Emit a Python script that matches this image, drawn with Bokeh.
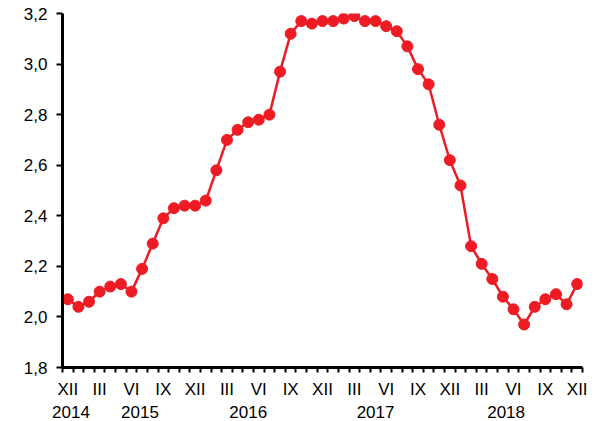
from bokeh.plotting import figure
from bokeh.models import (Range1d, FixedTicker, LinearAxis, CustomJSTickFormatter,
                          BoxAnnotation, ColumnDataSource)
from bokeh.embed import file_html
from bokeh.resources import INLINE

# Monthly values, XII 2014 .. XII 2018
values = [2.07, 2.04, 2.06, 2.10, 2.12, 2.13, 2.10, 2.19, 2.29, 2.39, 2.43, 2.44,
          2.44, 2.46, 2.58, 2.70, 2.74, 2.77, 2.78, 2.80, 2.97, 3.12, 3.17, 3.16,
          3.17, 3.17, 3.18, 3.19, 3.17, 3.17, 3.15, 3.13, 3.07, 2.98, 2.92, 2.76,
          2.62, 2.52, 2.28, 2.21, 2.15, 2.08, 2.03, 1.97, 2.04, 2.07, 2.09, 2.05,
          2.13]
month_labels = ["XII", "III", "VI", "IX"]
year_labels = ["2014", "2015", "2016", "2017", "2018"]
year_positions = [0.3, 6.8, 17.0, 29.0, 41.3]
y_ticks = [1.8, 2.0, 2.2, 2.4, 2.6, 2.8, 3.0, 3.2]

x = list(range(len(values)))
src = ColumnDataSource(dict(x=x, y=values))

FONT = "Liberation Sans"
RED = "#ED1C24"

p = figure(width=597, height=421, output_backend="svg", toolbar_location=None,
           x_range=Range1d(-0.5, len(values) - 0.5), y_range=Range1d(1.8, 3.2),
           min_border_left=62, min_border_top=13, min_border_bottom=54,
           min_border_right=15, x_axis_type=None, y_axis_type=None,
           styles={"position": "absolute", "left": "0px", "top": "0px"})
p.outline_line_color = None
p.xgrid.visible = False
p.ygrid.visible = False

# y axis
yax = LinearAxis(ticker=FixedTicker(ticks=y_ticks, minor_ticks=[]),
                 formatter=CustomJSTickFormatter(code="return tick.toFixed(1).replace('.', ',');"))
yax.axis_line_width = 3
yax.major_tick_line_width = 2
yax.major_tick_out = 6
yax.major_tick_in = 0
yax.major_label_text_font = FONT
yax.major_label_text_font_size = "17px"
yax.major_label_text_color = "black"
yax.major_label_standoff = 9
p.add_layout(yax, "left")

# month axis
major = list(range(0, len(values), 3))
xax = LinearAxis(ticker=FixedTicker(ticks=major,
                                    minor_ticks=[i - 0.5 for i in range(len(values) + 1)]))
xax.major_label_overrides = {i: month_labels[(i // 3) % 4] for i in major}
xax.axis_line_width = 3
xax.major_tick_out = 0
xax.major_tick_in = 0
xax.minor_tick_out = 5
xax.minor_tick_in = 0
xax.minor_tick_line_width = 2
xax.major_label_text_font = FONT
xax.major_label_text_font_size = "17px"
xax.major_label_text_color = "black"
xax.major_label_standoff = 7
p.add_layout(xax, "below")

# year axis
yrax = LinearAxis(ticker=FixedTicker(ticks=year_positions, minor_ticks=[]))
yrax.major_label_overrides = {pos: lab for pos, lab in zip(year_positions, year_labels)}
yrax.axis_line_color = None
yrax.major_tick_line_color = None
yrax.minor_tick_line_color = None
yrax.major_tick_out = 0
yrax.major_tick_in = 0
yrax.major_label_text_font = FONT
yrax.major_label_text_font_size = "17px"
yrax.major_label_text_color = "black"
yrax.major_label_standoff = 4
p.add_layout(yrax, "below")

# left border line
p.add_layout(BoxAnnotation(left=0, right=2, top=0, bottom=421,
                           left_units="canvas", right_units="canvas",
                           top_units="canvas", bottom_units="canvas",
                           fill_color="black", fill_alpha=1, line_color=None))

p.line("x", "y", source=src, line_color=RED, line_width=2.5)
p.scatter("x", "y", source=src, size=11, fill_color=RED, line_color=RED)

open("out.html", "w").write(file_html(p, INLINE))
